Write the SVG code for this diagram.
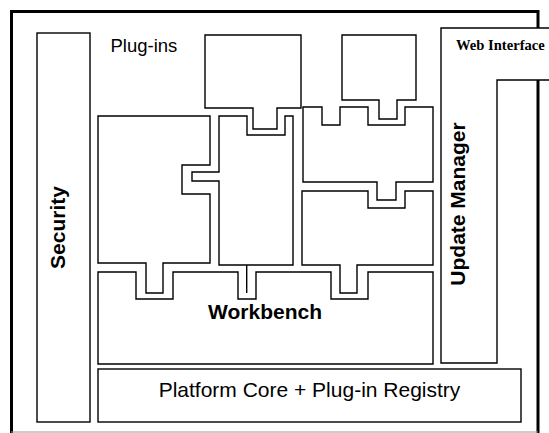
<svg xmlns="http://www.w3.org/2000/svg" width="549" height="433" viewBox="0 0 549 433">
<style>
.box{fill:#fff;stroke:#000;stroke-width:1.4;stroke-linejoin:miter}
.sans{font-family:"Liberation Sans",Arial,sans-serif;fill:#000}
.bold{font-weight:bold}
.serif{font-family:"Liberation Serif","Times New Roman",serif;font-weight:bold;fill:#000}
</style>
<rect x="0" y="0" width="549" height="433" fill="#fff"/>
<g id="frame">
<path d="M11.5,434 V11.5 H538 V434" fill="none" stroke="#000" stroke-width="3"/>
<line x1="11" y1="432" x2="538" y2="432" stroke="#999" stroke-width="1"/>
</g>
<g id="web-interface-update-manager">
<path class="box" d="M441,28 H560 V80 H497 V363 H441 Z"/>
<text class="serif" x="456" y="50" font-size="14.6">Web Interface</text>
<text class="sans bold" font-size="21" text-anchor="middle" transform="translate(465,204) rotate(-90)">Update Manager</text>
</g>
<g id="security">
<rect class="box" x="37" y="33" width="53" height="389"/>
<text class="sans bold" font-size="21" text-anchor="middle" transform="translate(65,227.5) rotate(-90)">Security</text>
</g>
<g id="plugins-label">
<text class="sans" x="110.5" y="51.5" font-size="18.5">Plug-ins</text>
</g>
<g id="plugin-1">
<path class="box" d="M205,35 H301 V108 H277 V129 H253 V108 H205 Z"/>
</g>
<g id="plugin-2">
<path class="box" d="M219,116 H247 V135 H285 V116 H293 V265 H219 V181 H192 V172 H219 Z"/>
<line x1="246.7" y1="265" x2="246.7" y2="293" stroke="#000" stroke-width="1.4"/>
</g>
<g id="plugin-3">
<path class="box" d="M98,116 H210 V165 H182 V194 H210 V263 H163 V293 H146 V263 H98 Z"/>
</g>
<g id="plugin-4">
<path class="box" d="M303,107 H322 V125 H340 V107 H368 V125 H405 V107 H433 V182 H396 V200 H377 V182 H303 Z"/>
</g>
<g id="plugin-5">
<path class="box" d="M302,191 H368 V208 H405 V191 H433 V265 H357 V293 H340 V265 H302 Z"/>
</g>
<g id="plugin-6">
<path class="box" d="M342,35 H416 V100 H397 V119 H379 V100 H342 Z"/>
</g>
<g id="workbench">
<path class="box" d="M98,272 H136 V299 H173 V272 H238 V299 H256 V272 H331 V299 H368 V272 H433 V364 H98 Z"/>
<text class="sans bold" x="265" y="319" font-size="21" text-anchor="middle">Workbench</text>
</g>
<g id="platform-core">
<rect class="box" x="98" y="369" width="423" height="53"/>
<text class="sans" x="309.5" y="396.5" font-size="21" text-anchor="middle">Platform Core + Plug-in Registry</text>
</g>
<g id="connectors"/>
</svg>
